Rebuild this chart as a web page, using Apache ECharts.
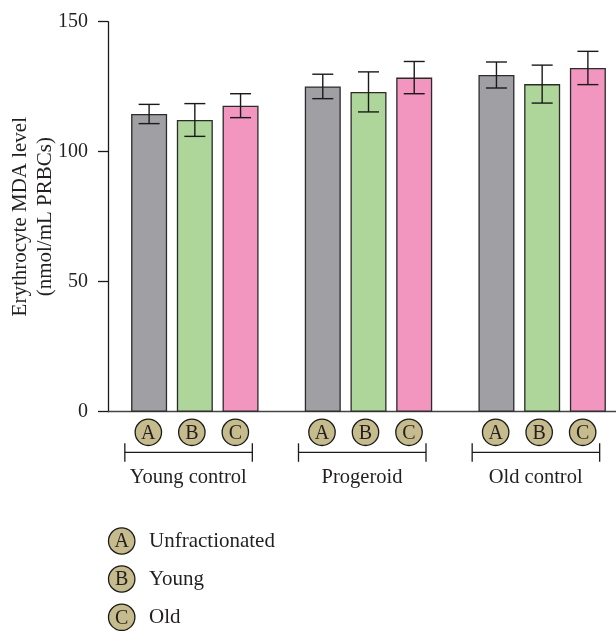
<!DOCTYPE html>
<html>
<head>
<meta charset="utf-8">
<script src="https://cdn.jsdelivr.net/npm/echarts@6/dist/echarts.min.js"></script>
<style>
  html, body { margin: 0; padding: 0; background: #fff; }
  #chart { width: 616px; height: 631px; }
</style>
</head>
<body>
<div id="chart"></div>
<script>
// Erythrocyte MDA level by donor group and RBC fraction (mean ± SD)
const groups = ['Young control', 'Progeroid', 'Old control'];
const fractions = ['Unfractionated', 'Young', 'Old'];
const fractionKeys = ['A', 'B', 'C'];

const unfractionatedMean = [114.5, 125.1, 129.5];
const unfractionatedSD   = [3.7, 4.7, 5.0];
const youngMean = [112.2, 123.0, 126.0];
const youngSD   = [6.3, 7.7, 7.3];
const oldMean = [117.7, 128.5, 132.2];
const oldSD   = [4.6, 6.2, 6.4];

const yTicks = [0, 50, 100, 150];

const FONT = '"Liberation Serif", "DejaVu Serif", serif';
const TEXT = '#231f20';
const barColors = ['#a09fa4', '#afd69a', '#f296c0'];
const keyFill = '#c6bb8c';

const BAR_W = 36;
const BAR_GAP = 0.27;
const PITCH = BAR_W * (1 + BAR_GAP);

const means = [unfractionatedMean, youngMean, oldMean];
const sds = [unfractionatedSD, youngSD, oldSD];

function barSeries(i) {
  return {
    type: 'bar',
    name: fractions[i],
    data: means[i],
    barWidth: BAR_W,
    barGap: (BAR_GAP * 100) + '%',
    itemStyle: { color: barColors[i], borderColor: '#2b2b2b', borderWidth: 1.3 },
    z: 2
  };
}

function errorSeries(i) {
  return {
    type: 'custom',
    name: fractions[i] + ' SD',
    data: means[i].map((m, k) => [k, m - sds[i][k], m + sds[i][k]]),
    encode: { x: 0, y: [1, 2] },
    z: 5,
    renderItem(params, api) {
      const cat = api.value(0);
      const lo = api.coord([cat, api.value(1)]);
      const hi = api.coord([cat, api.value(2)]);
      const x = lo[0] + (i - 1) * PITCH;
      const cap = 10.5;
      const st = { stroke: '#1a1a1a', lineWidth: 1.4 };
      return {
        type: 'group',
        children: [
          { type: 'line', shape: { x1: x, y1: lo[1], x2: x, y2: hi[1] }, style: st },
          { type: 'line', shape: { x1: x - cap, y1: lo[1], x2: x + cap, y2: lo[1] }, style: st },
          { type: 'line', shape: { x1: x - cap, y1: hi[1], x2: x + cap, y2: hi[1] }, style: st }
        ]
      };
    }
  };
}

function keyBadge(cx, cy, letter) {
  return [
    { type: 'circle', shape: { cx: cx, cy: cy, r: 13.2 },
      style: { fill: keyFill, stroke: '#1a1a1a', lineWidth: 1.3 } },
    { type: 'text', x: cx, y: cy + 1,
      style: { text: letter, fill: TEXT, font: '20px ' + FONT, align: 'center', verticalAlign: 'middle' } }
  ];
}

// Circled fraction keys and group brackets beneath each category
const keySeries = {
  type: 'custom',
  name: 'keys',
  data: groups.map((g, k) => [k]),
  encode: { x: 0 },
  clip: false,
  silent: true,
  z: 6,
  renderItem(params, api) {
    const base = api.coord([api.value(0), 0]);
    const cx = base[0], y0 = base[1];
    const offs = [-46.5, -3, 40.5];
    let children = [];
    offs.forEach((o, j) => { children = children.concat(keyBadge(cx + o, y0 + 20.6, fractionKeys[j])); });
    const bl = cx - 70, br = cx + 57.5, by = y0 + 40.6;
    const st = { stroke: '#1a1a1a', lineWidth: 1.3 };
    children.push(
      { type: 'line', shape: { x1: bl, y1: by, x2: br, y2: by }, style: st },
      { type: 'line', shape: { x1: bl, y1: by - 9, x2: bl, y2: by + 9.5 }, style: st },
      { type: 'line', shape: { x1: br, y1: by - 9, x2: br, y2: by + 9.5 }, style: st }
    );
    return { type: 'group', children: children };
  }
};

// Key explaining the circled letters
const legendItems = [];
fractions.forEach((f, j) => {
  const cy = [541, 579, 617.3][j];
  keyBadge(121.7, cy, fractionKeys[j]).forEach(el => legendItems.push(el));
  legendItems.push({
    type: 'text', x: 149, y: cy + 0.5,
    style: { text: f, fill: TEXT, font: '21px ' + FONT, verticalAlign: 'middle' }
  });
});

const chart = echarts.init(document.getElementById('chart'), null, { renderer: 'canvas' });
chart.setOption({
  animation: false,
  backgroundColor: '#fff',
  grid: { left: 108, top: 21.7, width: 521, bottom: 219.3, containLabel: false, outerBoundsMode: 'none' },
  xAxis: {
    type: 'category',
    data: groups,
    axisTick: { show: false },
    axisLine: { lineStyle: { color: '#444', width: 1.3 } },
    axisLabel: {
      margin: 55, padding: [0, 13, 0, 0],
      color: TEXT, fontFamily: FONT, fontSize: 20.5
    }
  },
  yAxis: {
    type: 'value',
    min: yTicks[0], max: yTicks[yTicks.length - 1], interval: 50,
    name: 'Erythrocyte MDA level\n(nmol/mL PRBCs)',
    nameLocation: 'middle',
    nameGap: 50,
    nameRotate: 90,
    nameMoveOverlap: false,
    nameTextStyle: { color: TEXT, fontFamily: FONT, fontSize: 21, lineHeight: 25 },
    axisLine: { show: true, lineStyle: { color: '#1a1a1a', width: 1.3 } },
    axisTick: { show: true, length: 10, lineStyle: { color: '#1a1a1a', width: 1.3 } },
    axisLabel: { margin: 20, color: TEXT, fontFamily: FONT, fontSize: 20 },
    splitLine: { show: false }
  },
  series: [
    barSeries(0), barSeries(1), barSeries(2),
    errorSeries(0), errorSeries(1), errorSeries(2),
    keySeries
  ],
  graphic: legendItems
});
</script>
</body>
</html>
